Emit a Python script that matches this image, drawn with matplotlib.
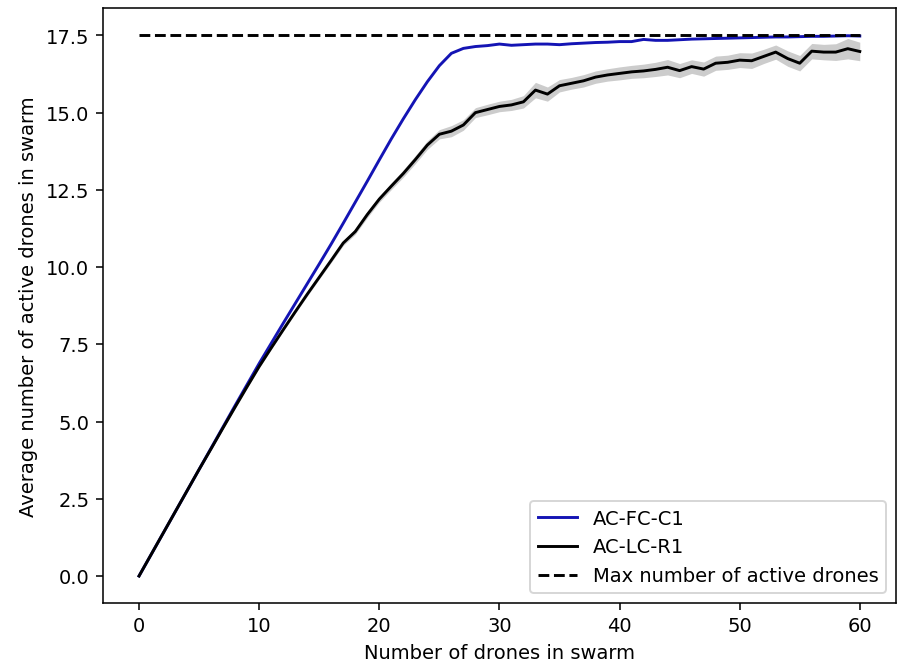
import numpy as np
import matplotlib
matplotlib.use("Agg")
import matplotlib.pyplot as plt

drones = list(range(0, 61))

ac_fc_c1 = [0.0, 0.69, 1.38, 2.07, 2.76, 3.45, 4.14, 4.83, 5.52, 6.2,
            6.88, 7.53, 8.18, 8.82, 9.46, 10.1, 10.75, 11.42, 12.1, 12.78,
            13.47, 14.15, 14.8, 15.42, 16.0, 16.52, 16.92, 17.08, 17.14, 17.17,
            17.22, 17.18, 17.2, 17.22, 17.22, 17.2, 17.23, 17.25, 17.27, 17.28,
            17.3, 17.3, 17.37, 17.34, 17.34, 17.36, 17.38, 17.39, 17.4, 17.41,
            17.42, 17.43, 17.44, 17.45, 17.45, 17.46, 17.47, 17.47, 17.48, 17.49,
            17.48]

ac_lc_r1 = [0.0, 0.69, 1.38, 2.07, 2.76, 3.45, 4.12, 4.8, 5.47, 6.13,
            6.78, 7.38, 7.97, 8.55, 9.12, 9.67, 10.22, 10.78, 11.15, 11.7,
            12.2, 12.62, 13.03, 13.48, 13.95, 14.3, 14.4, 14.6, 15.0, 15.1,
            15.2, 15.25, 15.35, 15.73, 15.6, 15.87, 15.95, 16.03, 16.15, 16.22,
            16.27, 16.32, 16.35, 16.4, 16.47, 16.36, 16.49, 16.41, 16.6, 16.63,
            16.7, 16.68, 16.82, 16.96, 16.75, 16.6, 16.99, 16.96, 16.96, 17.07,
            16.98]

ac_lc_r1_spread = [0.0, 0.02, 0.02, 0.02, 0.02, 0.03, 0.03, 0.03, 0.03, 0.03,
                   0.04, 0.04, 0.05, 0.05, 0.06, 0.06, 0.07, 0.08, 0.09, 0.1,
                   0.1, 0.11, 0.12, 0.13, 0.14, 0.15, 0.18, 0.17, 0.16, 0.17,
                   0.17, 0.18, 0.2, 0.25, 0.23, 0.2, 0.19, 0.2, 0.2, 0.2,
                   0.21, 0.21, 0.22, 0.23, 0.25, 0.23, 0.22, 0.23, 0.23, 0.23,
                   0.24, 0.25, 0.23, 0.23, 0.25, 0.25, 0.25, 0.25, 0.27, 0.33,
                   0.3]

max_active = 17.5

fig = plt.figure(figsize=(6.42, 4.79), dpi=140)
ax = fig.add_subplot(111)
fig.subplots_adjust(left=0.1146, right=0.9967, bottom=0.0999, top=0.9866)

x = np.array(drones)
y2 = np.array(ac_lc_r1)
s2 = np.array(ac_lc_r1_spread)

ax.plot(x, ac_fc_c1, color='#1414b4', label='AC-FC-C1')
ax.fill_between(x, y2 - s2, y2 + s2, color='grey', alpha=0.4, linewidth=0)
ax.plot(x, y2, color='black', label='AC-LC-R1')
ax.plot([x[0], x[-1]], [max_active, max_active], color='black', linestyle='--',
        label='Max number of active drones')

ax.set_xlabel('Number of drones in swarm')
ax.set_ylabel('Average number of active drones in swarm')
ax.legend(loc='lower right')

fig.savefig('out.png', dpi=140)
